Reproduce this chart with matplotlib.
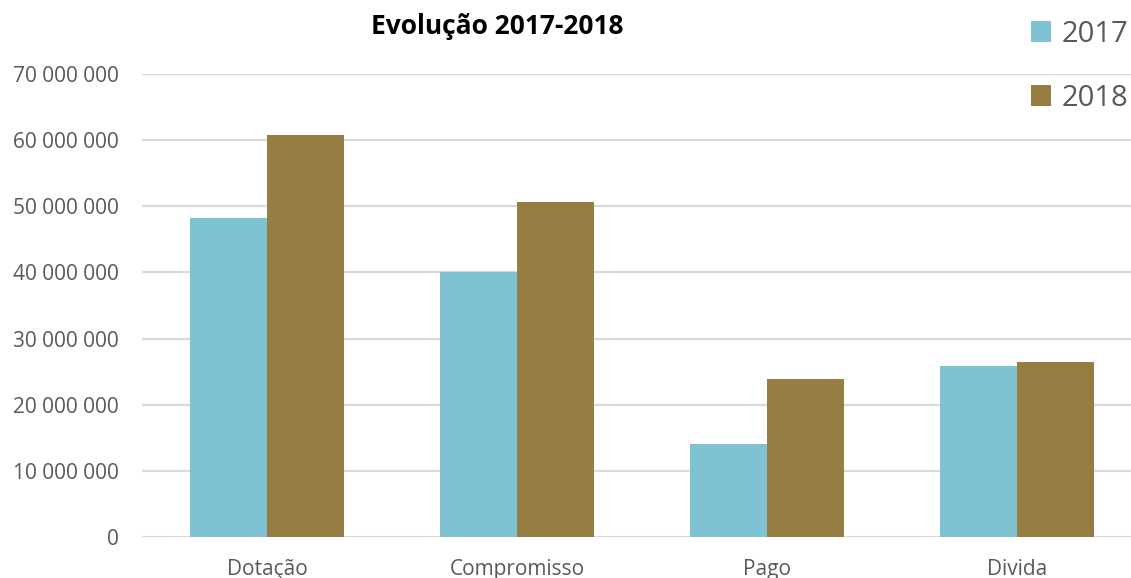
import numpy as np
import matplotlib.pyplot as plt
from matplotlib.ticker import FuncFormatter

categorias = ['Dotação', 'Compromisso', 'Pago', 'Divida']
anos = ['2017', '2018']
valores_2017 = [48200000, 40000000, 14100000, 25900000]
valores_2018 = [60800000, 50600000, 23900000, 26500000]

cor_2017 = '#7FC2D3'
cor_2018 = '#967D42'
cinza = '#595959'

plt.rcParams['font.family'] = ['Open Sans', 'DejaVu Sans']

fig = plt.figure(figsize=(11.31, 5.78), dpi=100)
# o eixo passa da borda direita, como no original
ax = fig.add_axes([142 / 1131, 41 / 578, 1000 / 1131, 463 / 578])

x = np.arange(len(categorias))
largura = 0.308
b1 = ax.bar(x - largura / 2, valores_2017, largura, color=cor_2017, label=anos[0], zorder=3)
b2 = ax.bar(x + largura / 2, valores_2018, largura, color=cor_2018, label=anos[1], zorder=3)

ax.set_xlim(-0.5, 3.5)
ax.set_ylim(0, 70000000)
ax.set_yticks(np.arange(0, 70000001, 10000000))
ax.yaxis.set_major_formatter(FuncFormatter(lambda v, p: f'{int(v):,}'.replace(',', ' ')))
ax.grid(axis='y', color='#d9d9d9', linewidth=1.6, zorder=0)
for s in ['top', 'right', 'left', 'bottom']:
    ax.spines[s].set_visible(False)
ax.tick_params(axis='both', length=0, colors=cinza, labelsize=15)
ax.tick_params(axis='y', pad=17)
ax.tick_params(axis='x', pad=16)
ax.set_xticks(x)
ax.set_xticklabels(categorias)

fig.text(497 / 1131, 1 - 27 / 578, 'Evolução 2017-2018', ha='center', va='center',
         fontsize=19, fontweight='bold', color='black')

fig.legend(handles=[b1, b2], loc='upper left', bbox_to_anchor=(1016 / 1131, 1 - 5 / 578),
           frameon=False, fontsize=21, handlelength=0.7, handleheight=0.7,
           handletextpad=0.35, labelspacing=1.2, labelcolor=cinza, borderpad=0)

fig.savefig('out.png', dpi=100)
